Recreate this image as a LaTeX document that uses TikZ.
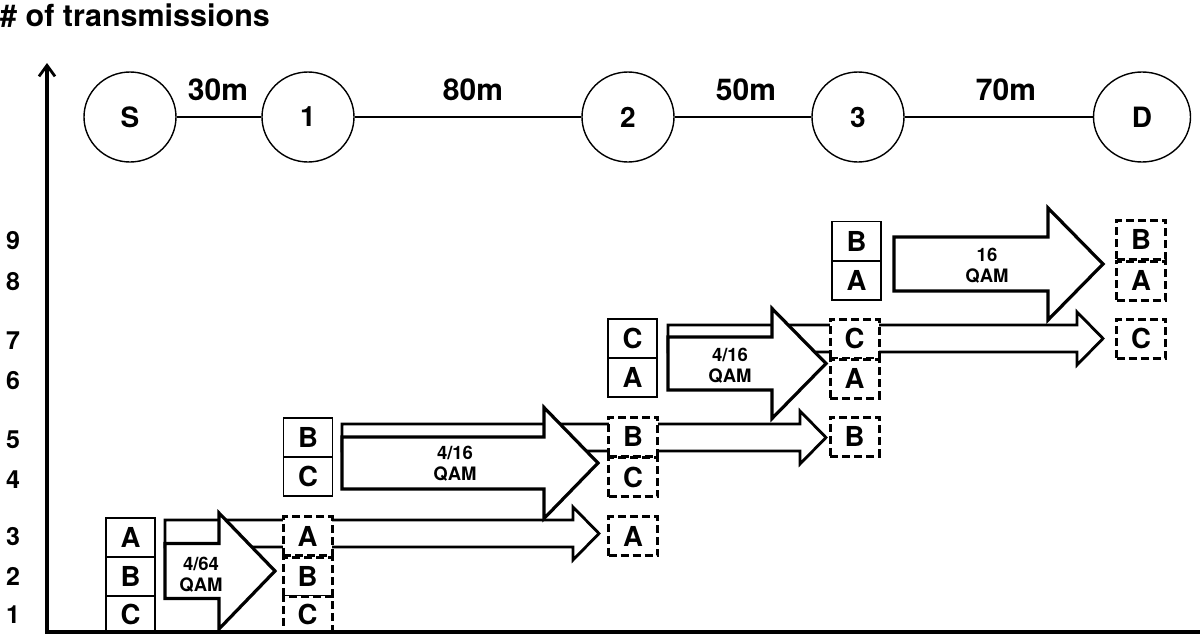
\documentclass[tikz,border=0pt]{standalone}
\usepackage{fontspec}
\setmainfont{TeX Gyre Heros}
\usetikzlibrary{arrows.meta,shapes.geometric}
% #1 style, #2 x start, #3 x tip, #4 y centre, #5 body half height, #6 head half height, #7 head length
\newcommand{\BlkArrow}[7]{%
  \draw[#1] (#2,#4-#5) -- (#3-#7,#4-#5) -- (#3-#7,#4-#6) -- (#3,#4)
    -- (#3-#7,#4+#6) -- (#3-#7,#4+#5) -- (#2,#4+#5) -- cycle;}
\begin{document}
\begin{tikzpicture}[x=1pt,y=-1pt,line join=miter,
  station/.style={ellipse,draw,line width=1.4pt,minimum width=92pt,minimum height=90pt,
    inner sep=0pt,font=\fontsize{28}{28}\selectfont\bfseries},
  dist/.style={anchor=base,inner sep=0pt,font=\fontsize{30}{30}\selectfont\bfseries},
  box/.style={draw,fill=white,line width=1.2pt,minimum width=49pt,minimum height=39pt,
    inner sep=0pt,font=\fontsize{27.5}{27.5}\selectfont\bfseries},
  dbox/.style={box,line width=3pt,dash pattern=on 8pt off 4pt},
  bigarrow/.style={draw,fill=white,line width=3.2pt},
  thinarrow/.style={draw,fill=white,line width=2.8pt},
  alabel/.style={align=center,inner sep=0pt,font=\fontsize{18.5}{21}\selectfont\bfseries},
  tick/.style={inner sep=0pt,font=\fontsize{25}{25}\selectfont\bfseries},
  axis/.style={line width=3.2pt}]
\useasboundingbox (0,0) rectangle (1200,637);

% title
\node[anchor=base west,inner sep=0pt,font=\fontsize{30.5}{30.5}\selectfont\bfseries] (title) at (0,27) {\# of transmissions};

% stations
\node[station] (S)  at (130,117) {S};
\node[station] (n1) at (308,117) {1};
\node[station] (n2) at (628,117) {2};
\node[station] (n3) at (858,117) {3};
\node[station,minimum width=97pt] (D) at (1142,117) {D};
\draw[line width=1.2pt] (S) -- (n1) (n1) -- (n2) (n2) -- (n3) (n3) -- (D);
\node[dist] (d1) at (218,100) {30m};
\node[dist] (d2) at (473,100) {80m};
\node[dist] (d3) at (746,100) {50m};
\node[dist] (d4) at (1006,100) {70m};

% axis numbers
\node[tick] (t9) at (13,241) {9};
\node[tick] (t8) at (13,282) {8};
\node[tick] (t7) at (13,341) {7};
\node[tick] (t6) at (13,381) {6};
\node[tick] (t5) at (13,440) {5};
\node[tick] (t4) at (13,480) {4};
\node[tick] (t3) at (13,537) {3};
\node[tick] (t2) at (13,576) {2};
\node[tick] (t1) at (13,615) {1};

% thin arrows (forwarded packets)
\BlkArrow{thinarrow}{165}{599}{533.5}{13.5}{26.5}{26}
\BlkArrow{thinarrow}{342}{826}{437.5}{13.5}{26.5}{26}
\BlkArrow{thinarrow}{668}{1103}{338.5}{13.5}{26.5}{26}

% big arrows
\BlkArrow{bigarrow}{165}{275}{571}{27.5}{58}{56}
\BlkArrow{bigarrow}{342}{598}{463}{26}{55.5}{54}
\BlkArrow{bigarrow}{668}{826}{363.5}{26.5}{55}{54}
\BlkArrow{bigarrow}{894}{1103}{264}{27}{56}{55}
\node[alabel] (q1) at (201,575) {4/64\\QAM};
\node[alabel] (q2) at (455,464) {4/16\\QAM};
\node[alabel] (q3) at (730,366) {4/16\\QAM};
\node[alabel] (q4) at (987,266) {16\\QAM};

% solid boxes (packets held)
\node[box] (sA) at (130.5,537.5) {A};
\node[box] (sB) at (130.5,576.5) {B};
\node[box,minimum height=36pt] (sC) at (130.5,614) {C};
\node[box] (aB) at (308,437.5) {B};
\node[box] (aC) at (308,476.5) {C};
\node[box] (bC) at (632.5,338.5) {C};
\node[box] (bA) at (632.5,377.5) {A};
\node[box] (cB) at (856.5,241) {B};
\node[box] (cA) at (856.5,280.5) {A};

% dashed boxes (packets received)
\node[dbox] (rA1) at (307.5,536) {A};
\node[dbox] (rB1) at (307.5,576.5) {B};
\node[dbox,minimum height=36pt] (rC1) at (307.5,614) {C};
\node[dbox] (rB2) at (633,436.5) {B};
\node[dbox] (rC2) at (633,477) {C};
\node[dbox] (rA2) at (633,536) {A};
\node[dbox] (rC3) at (854.5,338.5) {C};
\node[dbox] (rA3) at (854.5,378.5) {A};
\node[dbox] (rB3) at (854.5,436.5) {B};
\node[dbox] (rBD) at (1141,239.5) {B};
\node[dbox] (rAD) at (1141,280.5) {A};
\node[dbox] (rCD) at (1141,338.5) {C};

% axes
\coordinate (O) at (47,632);
\coordinate (Ytop) at (47,63);
\coordinate (Xend) at (1200,632);
\draw[axis,-{Straight Barb[length=11pt,width=16pt,line width=2.8pt]}] (47,633.5) -- (Ytop);
\draw[axis] (45.5,632) -- (Xend);
\end{tikzpicture}
\end{document}
